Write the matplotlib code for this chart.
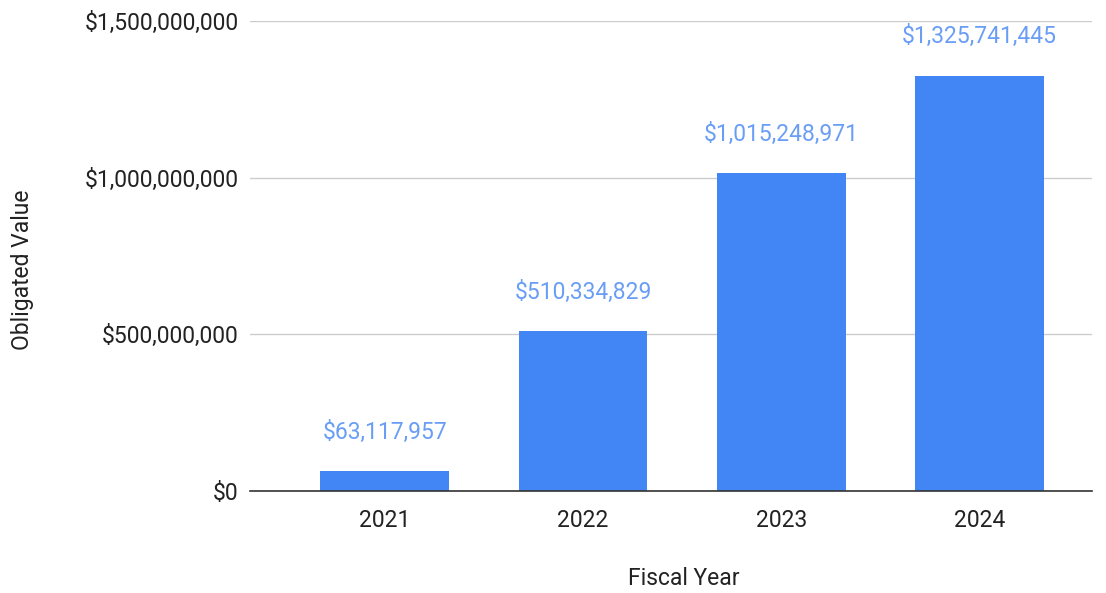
import matplotlib.pyplot as plt
from matplotlib.ticker import FuncFormatter

years = ['2021', '2022', '2023', '2024']
obligated = [63117957, 510334829, 1015248971, 1325741445]
y_ticks = [0, 500000000, 1000000000, 1500000000]

plt.rcParams['font.family'] = ['Roboto', 'DejaVu Sans']

fig = plt.figure(figsize=(11.06, 5.93), dpi=100)
ax = fig.add_axes([0.226, 0.172, 0.761, 0.7926])

x = list(range(len(years)))
ax.bar(x, obligated, width=0.65, color='#4285F4', zorder=3)

for xi, v in zip(x, obligated):
    ax.annotate('${:,}'.format(v), (xi, v), xytext=(0, 28), textcoords='offset points',
                ha='center', va='center', fontsize=16.5, color='#6a9ef5')

ax.set_xlim(-0.68, 3.565)
ax.set_ylim(0, 1.5e9)
ax.set_yticks(y_ticks)
ax.yaxis.set_major_formatter(FuncFormatter(lambda v, p: '${:,.0f}'.format(v)))
ax.set_xticks(x)
ax.set_xticklabels(years)

ax.grid(axis='y', color='#cccccc', linewidth=1, zorder=0)
for s in ['top', 'right', 'left']:
    ax.spines[s].set_visible(False)
ax.spines['bottom'].set_color('#333333')
ax.spines['bottom'].set_linewidth(1.2)
ax.spines['bottom'].set_zorder(4)
ax.tick_params(axis='both', length=0, labelsize=16.5, labelcolor='#222222')
ax.tick_params(axis='y', pad=8)
ax.tick_params(axis='x', pad=13)

ax.set_xlabel('Fiscal Year', fontsize=16.5, color='#222222', va='center')
ax.set_ylabel('Obligated Value', fontsize=16.5, color='#222222', va='center')
ax.xaxis.set_label_coords(0.515, -87 / 470)
ax.yaxis.set_label_coords(-228 / 842, 0.47)

fig.savefig('out.png', dpi=100)
